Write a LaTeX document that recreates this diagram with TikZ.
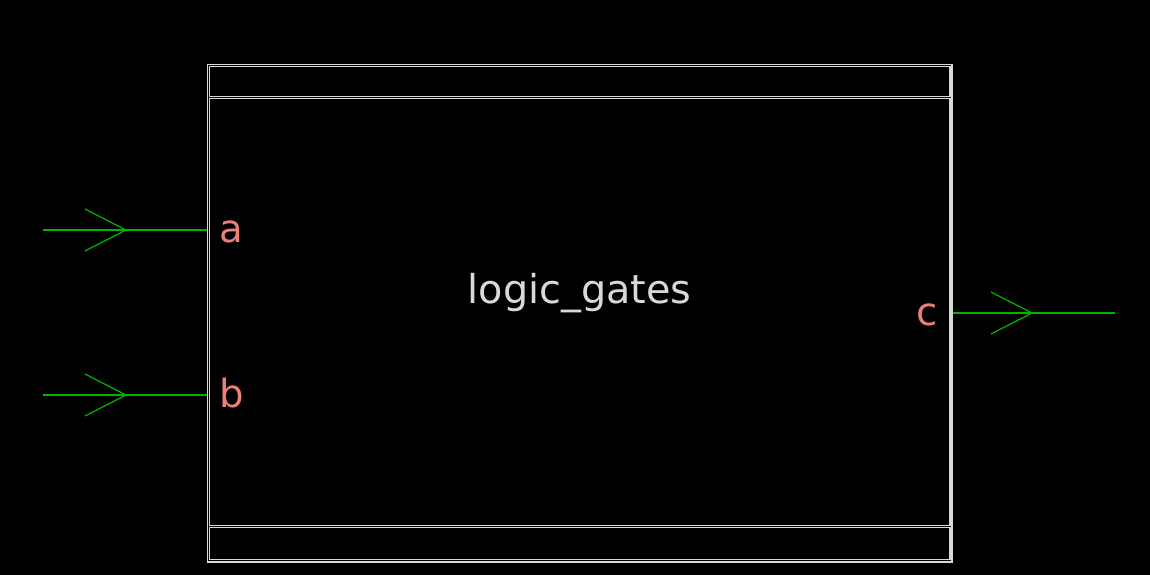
\documentclass[tikz,border=0pt]{standalone}
\usepackage{fontspec}
\setmainfont{DejaVu Sans}
\usetikzlibrary{positioning}
\definecolor{bg}{HTML}{000000}
\definecolor{framegray}{HTML}{D8D8D8}
\definecolor{titlegray}{HTML}{D9D9D9}
\definecolor{pinred}{HTML}{EE7F78}
\definecolor{wiregreen}{HTML}{00B400}

\begin{document}
\begin{tikzpicture}[x=0.01cm, y=-0.01cm,
                    frame/.style={draw=framegray, line width=0.35pt, inner sep=0pt, anchor=north west},
                    wire/.style={draw=wiregreen, line width=0.35pt},
                    pinlbl/.style={text=pinred, inner sep=0pt, font=\fontsize{11}{13}\selectfont},
                    title/.style={text=titlegray, inner sep=0pt, font=\fontsize{11.3}{13}\selectfont}]
                \fill[bg] (0,0) rectangle (1150,575);
                \useasboundingbox (0,0) rectangle (1150,575);
                % block outline
                \node[frame, minimum width=7.44cm, minimum height=4.97cm] (outer) at (207,64) {};
                \node[frame, minimum width=7.40cm, minimum height=0.30cm] (topbar) at (209,66) {};
                \node[frame, minimum width=7.40cm, minimum height=4.27cm] (body) at (209,98) {};
                \node[frame, minimum width=7.40cm, minimum height=0.32cm] (botbar) at (209,527) {};
                \node[title, anchor=base] (name) at (579.5,303) {logic\_gates};
                % ports
                \node[pinlbl, anchor=base west] (la) at (219,242) {a};
                \node[pinlbl, anchor=base west] (lb) at (219,407) {b};
                \node[pinlbl, anchor=base east] (lc) at (938,325) {c};
                \coordinate (ain) at (43,230);
                \coordinate (bin) at (43,395);
                \coordinate (cout) at (1115,313);
                \coordinate (atip) at (126,230);
                \coordinate (btip) at (126,395);
                \coordinate (ctip) at (1032,313);
                \draw[wire] (ain) -- (ain -| outer.west);
                \draw[wire] (bin) -- (bin -| outer.west);
                \draw[wire] (cout -| outer.east) -- (cout);
                \draw[wire] (atip) ++(-41,-21) -- (atip) -- ++(-41,21);
                \draw[wire] (btip) ++(-41,-21) -- (btip) -- ++(-41,21);
                \draw[wire] (ctip) ++(-41,-21) -- (ctip) -- ++(-41,21);
            \end{tikzpicture}
\end{document}
